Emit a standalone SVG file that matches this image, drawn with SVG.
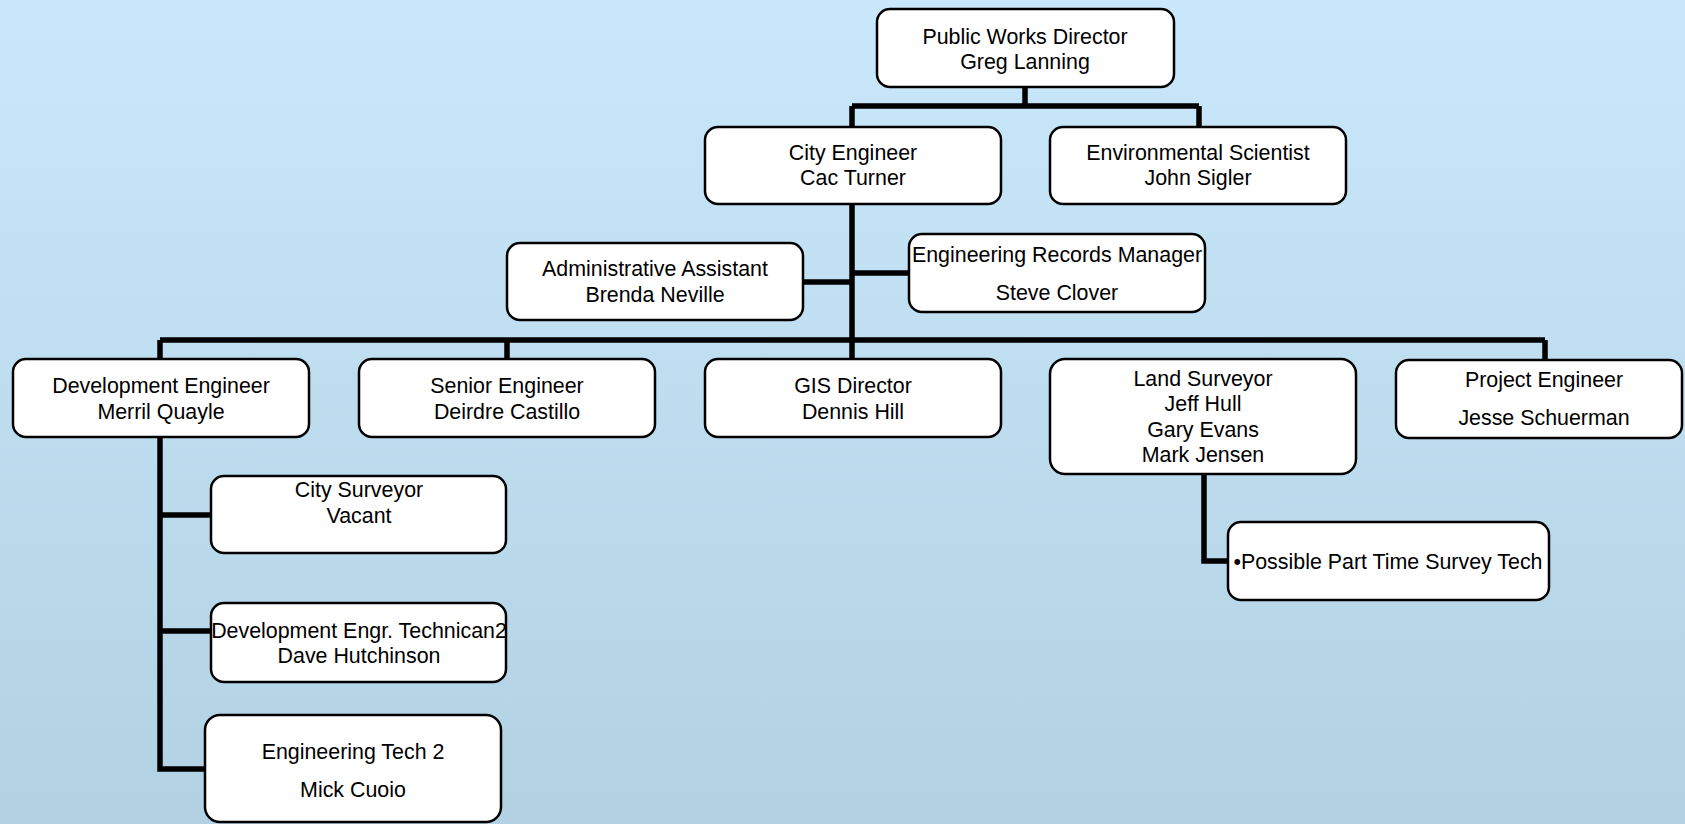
<svg xmlns="http://www.w3.org/2000/svg" width="1685" height="824" viewBox="0 0 1685 824">
<defs>
<linearGradient id="bg" x1="0" y1="0" x2="0" y2="1">
<stop offset="0" stop-color="#c9e8fb"/>
<stop offset="1" stop-color="#b2d2e4"/>
</linearGradient>
</defs>
<style>
.box{fill:#ffffff;stroke:#000000;stroke-width:2.5}
.t{font-family:"Liberation Sans",Arial,sans-serif;font-size:21.4px;fill:#000000;text-anchor:middle}
.c{fill:none;stroke:#000000;stroke-width:5.5}
</style>
<rect x="0" y="0" width="1685" height="824" fill="url(#bg)"/>
<g id="connectors">
<path class="c" d="M1025 87 V106 M852 106 H1199 M852 106 V127 M1199 106 V127"/>
<path class="c" d="M852 204 V359 M803 282 H852 M852 273 H909"/>
<path class="c" d="M160 340 H1545 M160 340 V359 M507 340 V359 M1545 340 V360"/>
<path class="c" d="M160 437 V769 H205 M160 515 H211 M160 631 H211"/>
<path class="c" d="M1204 474 V561 H1228"/>
</g>
<g id="n-pwd"><rect class="box" x="877" y="9" width="297" height="78" rx="13"/>
<text class="t" x="1025" y="44">Public Works Director</text><text class="t" x="1025" y="69">Greg Lanning</text></g>
<g id="n-cityeng"><rect class="box" x="705" y="127" width="296" height="77" rx="13"/>
<text class="t" x="853" y="160">City Engineer</text><text class="t" x="853" y="185">Cac Turner</text></g>
<g id="n-envsci"><rect class="box" x="1050" y="127" width="296" height="77" rx="13"/>
<text class="t" x="1198" y="160">Environmental Scientist</text><text class="t" x="1198" y="185">John Sigler</text></g>
<g id="n-admin"><rect class="box" x="507" y="243" width="296" height="77" rx="13"/>
<text class="t" x="655" y="276">Administrative Assistant</text><text class="t" x="655" y="302">Brenda Neville</text></g>
<g id="n-erm"><rect class="box" x="909" y="234" width="296" height="78" rx="13"/>
<text class="t" x="1057" y="262">Engineering Records Manager</text><text class="t" x="1057" y="300">Steve Clover</text></g>
<g id="n-deveng"><rect class="box" x="13" y="359" width="296" height="78" rx="13"/>
<text class="t" x="161" y="393">Development Engineer</text><text class="t" x="161" y="419">Merril Quayle</text></g>
<g id="n-senior"><rect class="box" x="359" y="359" width="296" height="78" rx="13"/>
<text class="t" x="507" y="393">Senior Engineer</text><text class="t" x="507" y="419">Deirdre Castillo</text></g>
<g id="n-gis"><rect class="box" x="705" y="359" width="296" height="78" rx="13"/>
<text class="t" x="853" y="393">GIS Director</text><text class="t" x="853" y="419">Dennis Hill</text></g>
<g id="n-land"><rect class="box" x="1050" y="359" width="306" height="115" rx="15"/>
<text class="t" x="1203" y="386">Land Surveyor</text><text class="t" x="1203" y="411">Jeff Hull</text><text class="t" x="1203" y="437">Gary Evans</text><text class="t" x="1203" y="462">Mark Jensen</text></g>
<g id="n-project"><rect class="box" x="1396" y="360" width="286" height="78" rx="13"/>
<text class="t" x="1544" y="387">Project Engineer</text><text class="t" x="1544" y="425">Jesse Schuerman</text></g>
<g id="n-citysurv"><rect class="box" x="211" y="476" width="295" height="77" rx="13"/>
<text class="t" x="359" y="497">City Surveyor</text><text class="t" x="359" y="523">Vacant</text></g>
<g id="n-devtech"><rect class="box" x="211" y="603" width="295" height="79" rx="13"/>
<text class="t" x="359" y="638">Development Engr. Technican2</text><text class="t" x="359" y="663">Dave Hutchinson</text></g>
<g id="n-engtech"><rect class="box" x="205" y="715" width="296" height="107" rx="15"/>
<text class="t" x="353" y="759">Engineering Tech 2</text><text class="t" x="353" y="797">Mick Cuoio</text></g>
<g id="n-parttime"><rect class="box" x="1228" y="522" width="321" height="78" rx="13"/>
<text class="t" x="1388" y="569">•Possible Part Time Survey Tech</text></g>
</svg>
